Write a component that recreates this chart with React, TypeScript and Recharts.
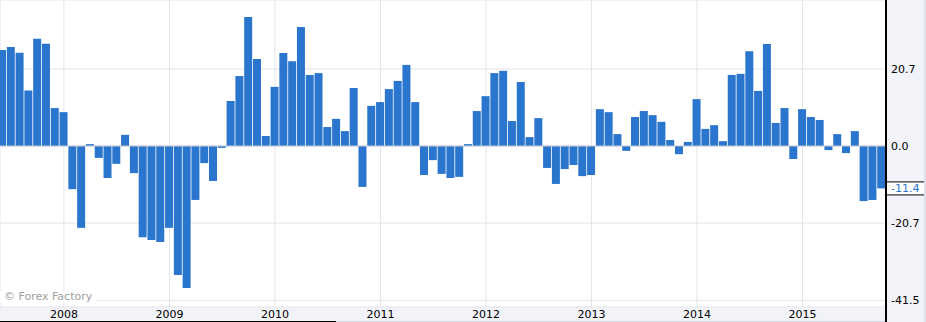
import { BarChart, Bar, XAxis, YAxis, CartesianGrid, ReferenceLine } from 'recharts';

const monthNames = ['Jan', 'Feb', 'Mar', 'Apr', 'May', 'Jun', 'Jul', 'Aug', 'Sep', 'Oct', 'Nov', 'Dec'];

// monthly values (2007 starts in June, 2015 ends in October)
const v2007 = [25.8, 26.6, 25.1, 14.9, 28.8, 27.5, 10.2];
const v2008 = [9.1, -11.6, -22.0, 0.5, -3.2, -8.6, -4.8, 3.0, -7.3, -24.5, -25.3, -25.8];
const v2009 = [-22.0, -34.7, -38.2, -14.5, -4.6, -9.4, -0.5, 12.1, 18.8, 34.7, 23.4, 2.7];
const v2010 = [15.9, 25.0, 22.8, 32.0, 19.1, 19.6, 5.1, 7.3, 4.0, 15.6, -11.0, 10.8];
const v2011 = [11.8, 15.3, 17.5, 21.8, 11.8, -7.8, -3.8, -7.5, -8.6, -8.3, 0.5, 9.4];
const v2012 = [13.4, 19.6, 20.2, 6.7, 17.2, 2.4, 7.5, -5.9, -10.2, -6.2, -5.1, -8.1];
const v2013 = [-7.8, 9.9, 9.1, 3.2, -1.3, 7.8, 9.4, 8.3, 6.5, 1.6, -2.2, 1.1];
const v2014 = [12.6, 4.6, 5.6, 1.3, 19.1, 19.4, 25.5, 14.8, 27.4, 6.2, 10.2, -3.5];
const v2015 = [9.9, 7.8, 7.0, -1.1, 3.2, -1.9, 4.0, -14.8, -14.5, -11.4];

const yearRows: { year: number; firstMonth: number; values: number[] }[] = [
  { year: 2007, firstMonth: 5, values: v2007 },
  { year: 2008, firstMonth: 0, values: v2008 },
  { year: 2009, firstMonth: 0, values: v2009 },
  { year: 2010, firstMonth: 0, values: v2010 },
  { year: 2011, firstMonth: 0, values: v2011 },
  { year: 2012, firstMonth: 0, values: v2012 },
  { year: 2013, firstMonth: 0, values: v2013 },
  { year: 2014, firstMonth: 0, values: v2014 },
  { year: 2015, firstMonth: 0, values: v2015 },
];

const yearLabels = ['2008', '2009', '2010', '2011', '2012', '2013', '2014', '2015'];
const yTicks = [20.7, 0, -20.7, -41.5];

const data: { i: number; month: string; value: number }[] = [];
yearRows.forEach((row) => {
  row.values.forEach((value, k) => {
    data.push({ i: data.length, month: `${monthNames[row.firstMonth + k]} ${row.year}`, value });
  });
});

const xTicks = yearLabels.map((y) => data.findIndex((d) => d.month === `Jan ${y}`));
const lastValue = data[data.length - 1].value;

const FONT = '"DejaVu Sans", Verdana, sans-serif';
const BLUE = '#2a75cd';

function YearTick({ x, payload }: any) {
  const row = data[payload.value];
  return (
    <text x={x} y={314} textAnchor="middle" dominantBaseline="central" fontSize={11} fontFamily={FONT} fill="#000">
      {row ? row.month.slice(4) : ''}
    </text>
  );
}

function ValueTick({ x, y, payload }: any) {
  return (
    <text x={x} y={y} textAnchor="start" dominantBaseline="central" fontSize={11} fontFamily={FONT} fill="#000">
      {Number(payload.value).toFixed(1)}
    </text>
  );
}

function LastValueTag({ viewBox }: any) {
  const x = viewBox.x + viewBox.width;
  const y = viewBox.y;
  return (
    <g>
      <rect x={x} y={y - 6.5} width={38} height={13} fill="#fff" />
      <line x1={x} x2={x + 38} y1={y - 6.5} y2={y - 6.5} stroke="#000" />
      <line x1={x} x2={x + 38} y1={y + 6.5} y2={y + 6.5} stroke="#000" />
      <text x={x + 5} y={y + 0.5} dominantBaseline="central" fontSize={11} fontFamily={FONT} fill={BLUE}>
        {lastValue.toFixed(1)}
      </text>
    </g>
  );
}

export default function App() {
  return (
    <div
      style={{
        position: 'fixed',
        left: 0,
        top: 0,
        width: 926,
        height: 322,
        overflow: 'hidden',
        background: '#fff',
      }}
    >
      {/* axis backgrounds and the scroll strip */}
      <div style={{ position: 'absolute', left: 0, top: 307, width: 886, height: 14, background: '#f2f3f8' }} />
      <div style={{ position: 'absolute', left: 886, top: 0, width: 40, height: 322, background: '#f2f3f8' }} />
      <div style={{ position: 'absolute', left: 924, top: 0, width: 2, height: 322, background: '#dfe1ea' }} />
      <div style={{ position: 'absolute', left: 0, top: 321, width: 886, height: 1, background: '#d6d9e2' }} />
      <div style={{ position: 'absolute', left: 0, top: 321, width: 336, height: 1, background: '#000' }} />

      <div style={{ position: 'absolute', left: 0, top: 0 }}>
        <BarChart width={926} height={322} data={data} margin={{ top: 0, right: 0, bottom: 0, left: 0 }}>
          <CartesianGrid stroke="#e4e5ec" />
          <XAxis
            type="number"
            dataKey="i"
            domain={[-0.273, 100.5]}
            allowDataOverflow
            ticks={xTicks}
            interval={0}
            tick={<YearTick />}
            tickLine={false}
            axisLine={false}
            height={15}
          />
          <YAxis
            orientation="right"
            type="number"
            domain={[-43.28, 39.25]}
            allowDataOverflow
            ticks={yTicks}
            interval={0}
            tick={<ValueTick />}
            tickLine={false}
            tickSize={0}
            tickMargin={5}
            axisLine={false}
            width={40}
          />
          <Bar dataKey="value" fill={BLUE} barSize={8} isAnimationActive={false} />
          <ReferenceLine y={0} stroke="#c8cbd6" />
          <ReferenceLine y={lastValue} stroke="none" label={(p: any) => <LastValueTag {...p} />} />
        </BarChart>
      </div>

      <div style={{ position: 'absolute', left: 885, top: 0, width: 2, height: 322, background: '#000' }} />
      <div
        style={{
          position: 'absolute',
          left: 0,
          top: 291,
          width: 97,
          height: 11,
          background: '#fff',
          color: '#a0a0a0',
          fontFamily: FONT,
          fontSize: 11,
          lineHeight: '11px',
          paddingLeft: 4,
          boxSizing: 'border-box',
          whiteSpace: 'nowrap',
        }}
      >
        © Forex Factory
      </div>
    </div>
  );
}
